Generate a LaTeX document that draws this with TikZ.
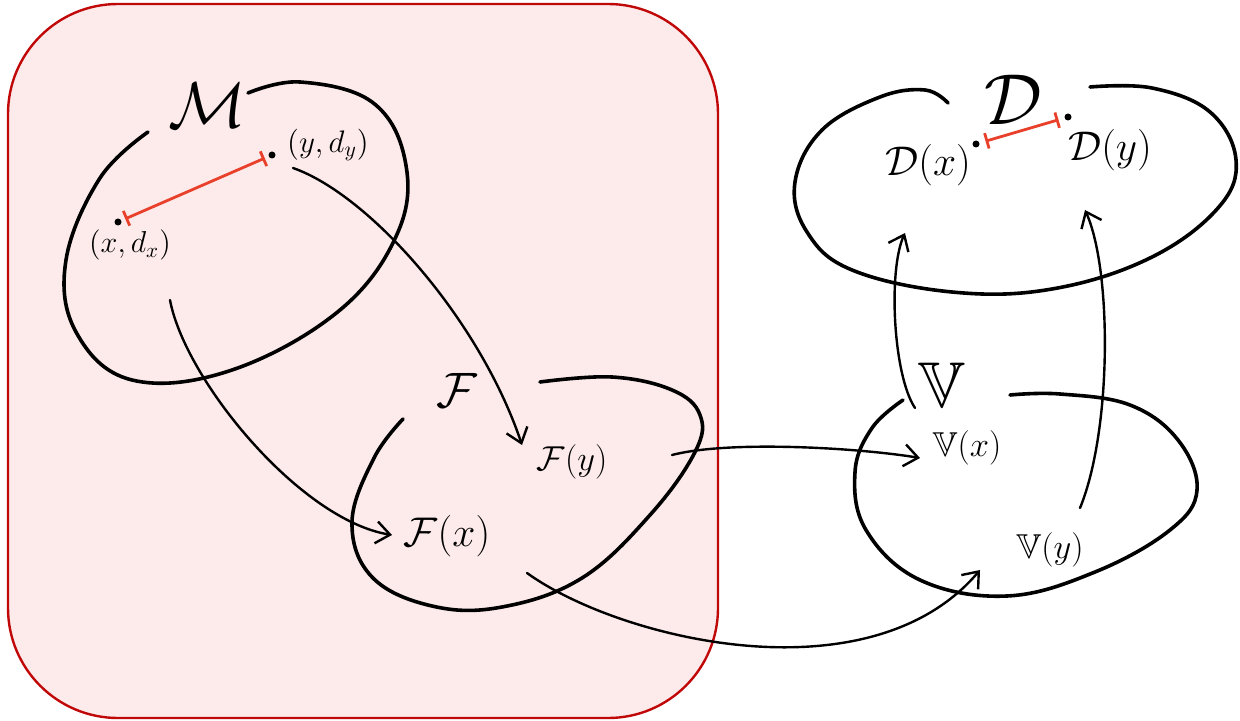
\documentclass[tikz,border=0pt]{standalone}
\usepackage{amssymb}
\usepackage{graphicx}
\usetikzlibrary{arrows.meta}
\definecolor{panelfill}{RGB}{253,235,235}
\definecolor{paneldraw}{RGB}{192,8,8}
\definecolor{segred}{RGB}{232,64,42}
\tikzset{
  panel/.style={fill=panelfill, draw=paneldraw, line width=1.2pt, rounded corners=55pt},
  blob/.style={line width=1.8pt, line cap=round},
  arr/.style={line width=1.2pt, line cap=round, -{Straight Barb[length=7pt,width=11pt]}},
  seg/.style={draw=segred, line width=1.4pt, {Bar[width=8pt]}-{Bar[width=8pt]}},
  lab/.style={inner sep=0pt},
  dotnode/.style={circle, fill=black, inner sep=0pt, minimum size=3.5pt}
}
\begin{document}
\begin{tikzpicture}[x=0.5pt,y=-0.5pt]
\useasboundingbox (0,0) rectangle (1240,721);
% panel
\draw[panel] (8,4) rectangle (718,718);

% blobs
\draw[blob] plot[smooth, tension=0.65] coordinates {(148,132) (100,178) (66,260) (76,332) (132,380) (232,370) (340,310) (398,232) (405,160) (372,102) (300,82) (248,93)};
\draw[blob] plot[smooth, tension=0.65] coordinates {(403,419) (374,458) (352,522) (372,577) (432,606) (502,607) (582,578) (650,515) (695,452) (700,415) (672,390) (612,377) (540,382)};
\draw[blob] plot[smooth, tension=0.65] coordinates {(948,103) (925,90) (880,97) (822,130) (795,182) (807,232) (852,270) (952,292) (1052,289) (1150,258) (1218,208) (1236,160) (1210,112) (1152,88) (1090,87)};
\draw[blob] plot[smooth, tension=0.65] coordinates {(903,400) (872,428) (855,472) (866,530) (920,580) (1007,596) (1095,572) (1170,530) (1197,490) (1178,440) (1130,405) (1060,394) (1010,395)};

% labels
\node[lab] (Mlab) at (207,105) {\scalebox{1.3}{\Huge $\mathcal{M}$}};
\node[lab] (yd) at (328,145) {\scalebox{1.08}{\Large $(y,d_y)$}};
\node[lab] (xd) at (130,245) {\scalebox{1.05}{\Large $(x,d_x)$}};
\node[lab] (Flab) at (457,390) {\Huge $\mathcal{F}$};
\node[lab] (Fy) at (572,462) {\LARGE $\mathcal{F}(y)$};
\node[lab] (Fx) at (447,536) {\huge $\mathcal{F}(x)$};
\node[lab] (Dlab) at (1013,100) {\scalebox{1.45}{\Huge $\mathcal{D}$}};
\node[lab] (Dx) at (928,165) {\huge $\mathcal{D}(x)$};
\node[lab] (Dy) at (1110,150) {\huge $\mathcal{D}(y)$};
\node[lab] (Vlab) at (942,385) {\scalebox{1.3}{\Huge $\mathbb{V}$}};
\node[lab] (Vx) at (967,448) {\LARGE $\mathbb{V}(x)$};
\node[lab] (Vy) at (1050,550) {\LARGE $\mathbb{V}(y)$};

% dots and distances
\node[dotnode] (px) at (118,222) {};
\node[dotnode] (py) at (272,155) {};
\node[dotnode] (qx) at (976,144) {};
\node[dotnode] (qy) at (1068,117) {};
\draw[seg, shorten <=2pt, shorten >=2pt] (px) -- (py);
\draw[seg, shorten <=3pt, shorten >=3pt] (qx) -- (qy);

% arrows
\draw[arr] ([shift={(-35,23)}]yd.center) .. controls (370,195) and (480,320) .. ([shift={(-50,-17)}]Fy.center);
\draw[arr] ([shift={(40,55)}]xd.center) .. controls (185,380) and (300,520) .. ([shift={(-55,-1)}]Fx.center);
\draw[arr] ([shift={(100,-7)}]Fy.center) .. controls (730,440) and (860,448) .. ([shift={(-47,10)}]Vx.center);
\draw[arr] ([shift={(80,37)}]Fx.center) .. controls (620,640) and (870,700) .. ([shift={(-70,20)}]Vy.center);
\draw[arr] ([shift={(-52,-40)}]Vx.center) .. controls (893,375) and (888,270) .. ([shift={(-23,68)}]Dx.center);
\draw[arr] ([shift={(30,-42)}]Vy.center) .. controls (1112,430) and (1112,270) .. ([shift={(-25,60)}]Dy.center);
\end{tikzpicture}
\end{document}
